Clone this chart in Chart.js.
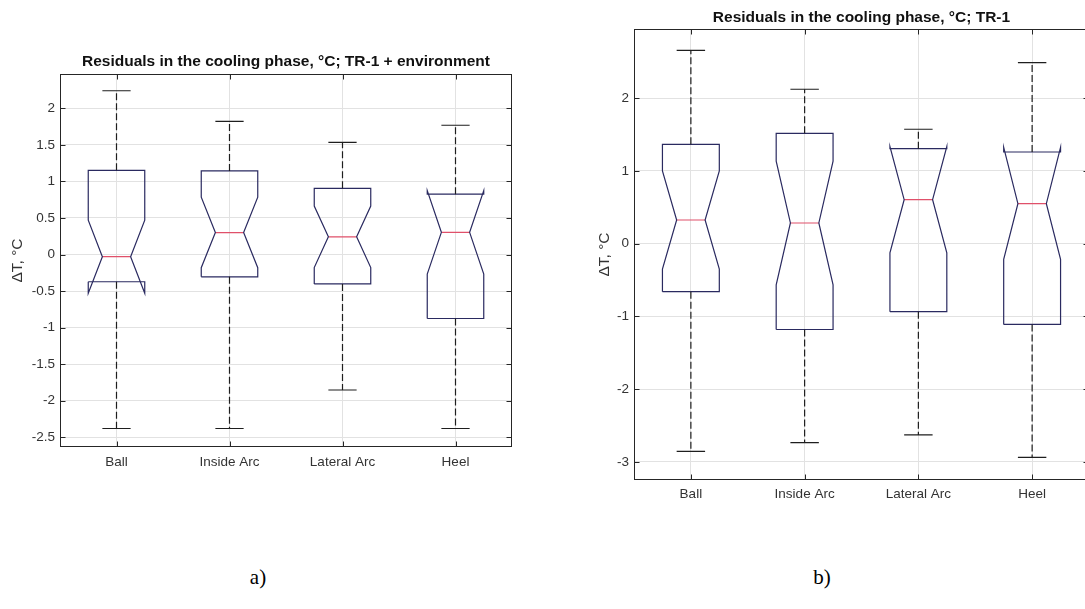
<!DOCTYPE html>
<html lang="en">
<head>
  <meta charset="UTF-8">
  <title>Residuals in the cooling phase</title>
  <script src="https://cdn.jsdelivr.net/npm/chart.js"></script>
  <style>
    html, body {
      margin: 0;
      padding: 0;
      background: #fff;
      width: 1085px;
      height: 609px;
      overflow: hidden;
    }

    body {
      position: relative;
    }

    canvas {
      position: absolute;
      top: 0;
    }

    #chartEnv { left: 0; }
    #chartTr { left: 540px; }

    .caption {
      position: absolute;
      top: 567px;
      font-family: "Liberation Serif", "Times New Roman", serif;
      font-size: 21px;
      line-height: 21px;
      color: #000;
      transform: translateX(-50%);
    }
  </style>
</head>

<body>
  <canvas id="chartEnv" width="530" height="480"></canvas>
  <canvas id="chartTr" width="560" height="510"></canvas>
  <div class="caption" style="left:258px">a)</div>
  <div class="caption" style="left:822px">b)</div>

  <script>
    // Sensor positions (x = 1..4)
    const categories = ["Ball", "Inside Arc", "Lateral Arc", "Heel"];

    // a) TR-1 + environment, residuals in °C
    const envUpperWhisker = [2.24, 1.82, 1.535, 1.768];
    const envQ3 = [1.152, 1.143, 0.905, 0.825];
    const envNotchHigh = [0.47, 0.785, 0.662, 0.873];
    const envMedian = [-0.03, 0.30, 0.242, 0.303];
    const envNotchLow = [-0.53, -0.18, -0.178, -0.267];
    const envQ1 = [-0.373, -0.305, -0.403, -0.875];
    const envLowerWhisker = [-2.38, -2.38, -1.853, -2.38];
    const envTicks = [-2.5, -2, -1.5, -1, -0.5, 0, 0.5, 1, 1.5, 2];

    // b) TR-1 only
    const trUpperWhisker = [2.66, 2.124, 1.574, 2.49];
    const trQ3 = [1.367, 1.518, 1.307, 1.261];
    const trNotchHigh = [1.0, 1.135, 1.335, 1.326];
    const trMedian = [0.326, 0.285, 0.605, 0.55];
    const trNotchLow = [-0.348, -0.565, -0.125, -0.215];
    const trQ1 = [-0.66, -1.18, -0.935, -1.11];
    const trLowerWhisker = [-2.855, -2.737, -2.63, -2.94];
    const trTicks = [-3, -2, -1, 0, 1, 2];

    // box geometry in x units
    const BOX_HALF = 0.25;
    const NOTCH_HALF = 0.125;
    const CAP_HALF = 0.125;

    const FONT = "'Liberation Sans', Arial, Helvetica, sans-serif";
    const BOX_COLOR = "#2a2a60";
    const MEDIAN_COLOR = "#e0506a";
    const WHISKER_COLOR = "#1e1e1e";
    const GRID_COLOR = "#e2e2e2";
    const AXIS_COLOR = "#262626";
    const TEXT_COLOR = "#333333";

    const GAP = (x) => ({ x: x, y: null });

    // outline of a notched box, traced the way MATLAB's boxplot does it
    const buildBoxes = (s) => {
      const outline = [], medians = [], whiskers = [], caps = [];
      categories.forEach((_, i) => {
        const x = i + 1;
        const l = x - BOX_HALF, r = x + BOX_HALF;
        const nl = x - NOTCH_HALF, nr = x + NOTCH_HALF;
        outline.push(
          { x: l, y: s.q1[i] }, { x: l, y: s.notchLow[i] }, { x: nl, y: s.median[i] },
          { x: l, y: s.notchHigh[i] }, { x: l, y: s.q3[i] }, { x: r, y: s.q3[i] },
          { x: r, y: s.notchHigh[i] }, { x: nr, y: s.median[i] }, { x: r, y: s.notchLow[i] },
          { x: r, y: s.q1[i] }, { x: l, y: s.q1[i] }, GAP(x)
        );
        medians.push({ x: nl, y: s.median[i] }, { x: nr, y: s.median[i] }, GAP(x));
        whiskers.push(
          { x: x, y: s.q3[i] }, { x: x, y: s.upper[i] }, GAP(x),
          { x: x, y: s.q1[i] }, { x: x, y: s.lower[i] }, GAP(x)
        );
        caps.push(
          { x: x - CAP_HALF, y: s.upper[i] }, { x: x + CAP_HALF, y: s.upper[i] }, GAP(x),
          { x: x - CAP_HALF, y: s.lower[i] }, { x: x + CAP_HALF, y: s.lower[i] }, GAP(x)
        );
      });

      const line = (data, color, dash) => ({
        type: "scatter",
        data: data,
        showLine: true,
        spanGaps: false,
        borderColor: color,
        borderWidth: 1.2,
        borderDash: dash || [],
        pointRadius: 0,
        pointHoverRadius: 0,
        tension: 0,
      });

      return [
        line(whiskers, WHISKER_COLOR, [7, 3]),
        line(caps, WHISKER_COLOR),
        line(outline, BOX_COLOR),
        line(medians, MEDIAN_COLOR),
      ];
    };

    // axes box with inward tick marks on all four sides
    const framePlugin = {
      id: "frame",
      afterDatasetsDraw(chart) {
        const { ctx, chartArea: a, scales } = chart;
        const L = Math.round(a.left) + 0.5, R = Math.round(a.right) - 0.5;
        const T = Math.round(a.top) + 0.5, B = Math.round(a.bottom) - 0.5;
        const len = 5;
        ctx.save();
        ctx.strokeStyle = AXIS_COLOR;
        ctx.lineWidth = 1;
        ctx.beginPath();
        scales.y.ticks.forEach((t) => {
          const py = Math.round(scales.y.getPixelForValue(t.value)) + 0.5;
          ctx.moveTo(L, py); ctx.lineTo(L + len, py);
          ctx.moveTo(R, py); ctx.lineTo(R - len, py);
        });
        scales.x.ticks.forEach((t) => {
          const px = Math.round(scales.x.getPixelForValue(t.value)) + 0.5;
          ctx.moveTo(px, B); ctx.lineTo(px, B - len);
          ctx.moveTo(px, T); ctx.lineTo(px, T + len);
        });
        ctx.stroke();
        ctx.strokeRect(L, T, R - L, B - T);
        ctx.restore();
      },
    };

    const makeChart = (id, cfg) => {
      const ctx = document.getElementById(id).getContext("2d");
      return new Chart(ctx, {
        type: "scatter",
        data: { datasets: buildBoxes(cfg.stats) },
        options: {
          responsive: false,
          animation: false,
          events: [],
          devicePixelRatio: 1,
          layout: { padding: { left: 0, top: 0, right: cfg.padRight, bottom: 0 } },
          plugins: {
            legend: { display: false },
            tooltip: { enabled: false },
            title: {
              display: true,
              fullSize: false,
              text: cfg.title,
              color: "#111",
              font: { family: FONT, size: 15.5, weight: "bold", lineHeight: 1.2 },
              padding: cfg.titlePadding,
            },
          },
          scales: {
            x: {
              type: "linear",
              min: 0.5,
              max: 4.5,
              afterBuildTicks: (s) => { s.ticks = categories.map((_, i) => ({ value: i + 1 })); },
              afterFit: (s) => { s.height = cfg.xHeight; },
              ticks: {
                callback: (v) => categories[v - 1],
                color: TEXT_COLOR,
                font: { family: FONT, size: 13.5 },
                padding: cfg.xPad,
                maxRotation: 0,
                autoSkip: false,
              },
              grid: { color: GRID_COLOR, drawTicks: false },
              border: { display: false },
            },
            y: {
              type: "linear",
              min: cfg.yMin,
              max: cfg.yMax,
              afterBuildTicks: (s) => { s.ticks = cfg.yTicks.map((v) => ({ value: v })); },
              afterFit: (s) => { s.width = cfg.yWidth; },
              ticks: {
                callback: (v) => String(v),
                color: TEXT_COLOR,
                font: { family: FONT, size: 13.5 },
                padding: 5,
              },
              grid: { color: GRID_COLOR, drawTicks: false },
              border: { display: false },
              title: {
                display: true,
                text: "ΔT, °C",
                color: TEXT_COLOR,
                font: { family: FONT, size: 15.5, lineHeight: 1.2 },
                padding: { top: cfg.yTitlePad, bottom: 0 },
              },
            },
          },
        },
        plugins: [framePlugin],
      });
    };

    makeChart("chartEnv", {
      title: "Residuals in the cooling phase, °C; TR-1 + environment",
      stats: {
        upper: envUpperWhisker, q3: envQ3, notchHigh: envNotchHigh, median: envMedian,
        notchLow: envNotchLow, q1: envQ1, lower: envLowerWhisker,
      },
      yTicks: envTicks,
      yMin: -2.633,
      yMax: 2.469,
      titlePadding: { top: 52, bottom: 3.4 },
      padRight: 18,
      yWidth: 60,
      xHeight: 33,
      xPad: 7,
      yTitlePad: 8.7,
    });

    makeChart("chartTr", {
      title: "Residuals in the cooling phase, °C; TR-1",
      stats: {
        upper: trUpperWhisker, q3: trQ3, notchHigh: trNotchHigh, median: trMedian,
        notchLow: trNotchLow, q1: trQ1, lower: trLowerWhisker,
      },
      yTicks: trTicks,
      yMin: -3.25,
      yMax: 2.953,
      titlePadding: { top: 8.7, bottom: 1.7 },
      padRight: 11,
      yWidth: 94,
      xHeight: 30,
      xPad: 6,
      yTitlePad: 55.7,
    });
  </script>
</body>
</html>
